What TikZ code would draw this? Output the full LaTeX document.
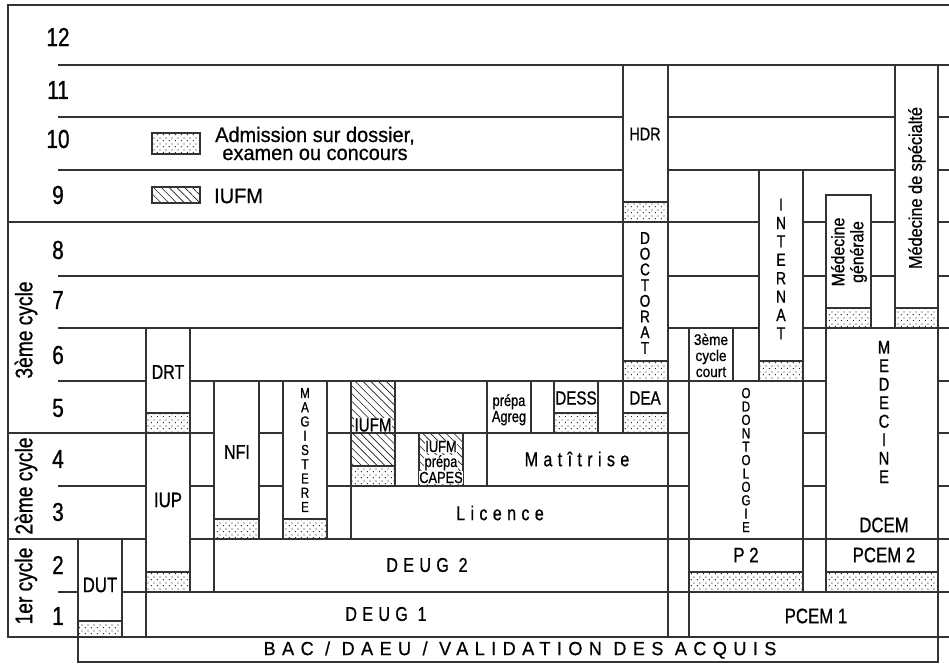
\documentclass[tikz,border=0pt]{standalone}
\usepackage{fontspec}
\setmainfont{Liberation Sans}
\newfontfamily\cnA{Liberation Sans}[FakeStretch=0.8,FakeBold=0.8]
\newfontfamily\cnB{Liberation Sans}[FakeStretch=0.88,FakeBold=0.8]
\newfontfamily\cnC{Liberation Sans}[FakeStretch=0.95,FakeBold=0.6]
\usetikzlibrary{patterns,patterns.meta}
\pgfdeclarepatternformonly{sdots}{\pgfqpoint{0pt}{0pt}}{\pgfqpoint{6pt}{6pt}}{\pgfqpoint{6pt}{6pt}}{%
  \pgfpathcircle{\pgfqpoint{1.5pt}{1.5pt}}{0.72pt}%
  \pgfpathcircle{\pgfqpoint{4.5pt}{4.5pt}}{0.72pt}%
  \pgfusepath{fill}}
\tikzset{
  ln/.style={line width=1.1pt, draw=black!80},
  bx/.style={ln, fill=white},
  dotb/.style={ln, pattern=sdots, pattern color=black!90},
  hatch/.style={ln, pattern={Lines[angle=-45,distance=5.5pt,line width=0.6pt]}, pattern color=black!90},
  num/.style={inner sep=0pt, font=\cnA\fontsize{26}{26}\selectfont},
  cyc/.style={inner sep=0pt, rotate=90, font=\cnA\fontsize{24}{24}\selectfont},
  lab/.style={inner sep=0pt, font=\cnA\fontsize{#1}{#1}\selectfont},
  lab/.default=20,
  stack/.style 2 args={inner sep=0pt, align=center, font=\cnA\fontsize{#1}{#2}\selectfont},
  spaced/.style={inner sep=0pt, font={\cnA\fontsize{20}{20}\selectfont\addfontfeature{LetterSpace=27}}},
  small/.style={inner sep=0pt, anchor=base, font=\cnA\fontsize{16}{16}\selectfont},
}
\begin{document}
\begin{tikzpicture}[x=1pt,y=-1pt]
\useasboundingbox (0,0) rectangle (949,664);
\fill[white] (0,0) rectangle (949,664);
% frame and row lines
\draw[ln] (949,5) -- (8,5) -- (8,637) -- (949,637);
\foreach \yy in {65,117,170,276,328,381,486,592} \draw[ln] (58,\yy) -- (949,\yy);
\foreach \yy in {222,433,539} \draw[ln] (8,\yy) -- (949,\yy);
% row numbers
\node[num] (r12) at (58,37) {12};
\node[num] (r11) at (58,90) {11};
\node[num] (r10) at (58,139) {10};
\node[num] (r9) at (58,195) {9};
\node[num] (r8) at (58,250) {8};
\node[num] (r7) at (58,300) {7};
\node[num] (r6) at (58,355) {6};
\node[num] (r5) at (58,408) {5};
\node[num] (r4) at (58,459) {4};
\node[num] (r3) at (58,512) {3};
\node[num] (r2) at (58,565) {2};
\node[num] (r1) at (58,616) {1};
% cycles
\node[cyc] (c3) at (26,330) {3ème cycle};
\node[cyc] (c2) at (26,486) {2ème cycle};
\node[cyc] (c1) at (26,586) {1er cycle};
% legend
\draw[dotb] (152,133) rectangle (200,154);
\node[inner sep=0pt, anchor=base, font=\cnC\fontsize{21}{21}\selectfont] (adm1) at (315,142) {Admission sur dossier,};
\node[inner sep=0pt, anchor=base, font=\cnC\fontsize{21}{21}\selectfont] (adm2) at (315,160) {examen ou concours};
\draw[hatch] (152,187) rectangle (200,203);
\node[inner sep=0pt, anchor=west, font=\cnC\fontsize{21}{21}\selectfont] (liufm) at (214,196) {IUFM};
% DUT
\draw[bx] (78,539) rectangle (122,637);
\draw[dotb] (78,621) rectangle (122,637);
\node[lab=21] (dut) at (100,585) {DUT};
% DRT / IUP
\draw[bx] (146,328) rectangle (190,433);
\draw[dotb] (146,413) rectangle (190,433);
\node[lab=20] (drt) at (168,372) {DRT};
\draw[bx] (146,433) rectangle (190,592);
\draw[dotb] (146,572) rectangle (190,592);
\node[lab=21] (iup) at (168,500) {IUP};
% DEUG 1
\draw[bx] (146,592) rectangle (668,637);
\node[spaced] (deug1) at (386,614) {DEUG 1};
% NFI
\draw[bx] (214,381) rectangle (259,539);
\draw[dotb] (214,519) rectangle (259,539);
\node[lab=20] (nfi) at (237,452) {NFI};
% MAGISTERE
\draw[bx] (283,381) rectangle (327,539);
\draw[dotb] (283,519) rectangle (327,539);
\node[stack={14.5}{14.25}] (mag) at (305,450) {M\\A\\G\\I\\S\\T\\E\\R\\E};
% DEUG 2
\draw[bx] (214,539) rectangle (668,592);
\node[spaced] (deug2) at (427,565) {DEUG 2};
% IUFM
\draw[hatch] (351,381) rectangle (395,466);
\draw[dotb] (351,466) rectangle (395,486);
\node[lab=19, fill=white, inner sep=0.6pt] (iufm) at (373,425) {IUFM};
% Licence
\draw[bx] (351,486) rectangle (668,539);
\node[spaced] (lic) at (500,513) {Licence};
% IUFM prepa CAPES
\draw[hatch] (419,433) rectangle (463,486);
\node[small, fill=white, inner sep=0.4pt] (ic1) at (441,452) {IUFM};
\node[small, fill=white, inner sep=0.4pt] (ic2) at (441,467) {prépa};
\node[small, fill=white, inner sep=0.4pt] (ic3) at (441,483) {CAPES};
% Maitrise
\draw[bx] (487,433) rectangle (668,486);
\node[spaced] (mai) at (577,459) {Matîtrise};
% prepa Agreg
\draw[bx] (487,381) rectangle (531,433);
\node[small] (pa1) at (509,406) {prépa};
\node[small] (pa2) at (509,422) {Agreg};
% DESS
\draw[bx] (554,381) rectangle (598,433);
\draw[dotb] (554,413) rectangle (598,433);
\node[lab=19] (dess) at (576,398) {DESS};
% DEA
\draw[bx] (623,381) rectangle (668,433);
\draw[dotb] (623,413) rectangle (668,433);
\node[lab=19] (dea) at (645,398) {DEA};
% DOCTORAT
\draw[bx] (623,222) rectangle (668,381);
\draw[dotb] (623,361) rectangle (668,381);
\node[stack={17}{15.7}] (doc) at (645,293) {D\\O\\C\\T\\O\\R\\A\\T};
% HDR
\draw[bx] (623,65) rectangle (668,222);
\draw[dotb] (623,202) rectangle (668,222);
\node[lab=18] (hdr) at (645,134) {HDR};
% 3eme cycle court
\draw[bx] (689,328) rectangle (733,381);
\node[small, font=\cnB\fontsize{15.5}{15.5}\selectfont] (cc1) at (711,345) {3ème};
\node[small, font=\cnB\fontsize{15.5}{15.5}\selectfont] (cc2) at (711,361) {cycle};
\node[small, font=\cnB\fontsize{15.5}{15.5}\selectfont] (cc3) at (711,377) {court};
% Odontologie
\draw[bx] (689,381) rectangle (803,539);
\node[stack={14.5}{13.4}] (odo) at (746,460) {O\\D\\O\\N\\T\\O\\L\\O\\G\\I\\E};
% P 2
\draw[bx] (689,539) rectangle (803,592);
\draw[dotb] (689,572) rectangle (803,592);
\node[lab=21] (p2) at (746,555) {P 2};
% PCEM 1
\draw[bx] (689,592) rectangle (938,637);
\node[lab=21] (pcem1) at (816,616) {PCEM 1};
% INTERNAT
\draw[bx] (759,170) rectangle (803,381);
\draw[dotb] (759,361) rectangle (803,381);
\node[stack={17.5}{18.4}] (int) at (781,269) {I\\N\\T\\E\\R\\N\\A\\T};
% Medecine generale
\draw[bx] (826,195) rectangle (871,328);
\draw[dotb] (826,308) rectangle (871,328);
\node[inner sep=0pt, rotate=90, align=center, font=\cnB\fontsize{18}{19}\selectfont] (mg) at (849,252) {Médecine\\générale};
% Medecine de specialite
\draw[bx] (895,65) rectangle (938,328);
\draw[dotb] (895,308) rectangle (938,328);
\node[inner sep=0pt, rotate=90, font=\cnB\fontsize{18.5}{18.5}\selectfont] (ms) at (917,188) {Médecine de spécialté};
% MEDECINE
\draw[bx] (826,328) rectangle (938,539);
\node[stack={18.5}{18.5}] (med) at (884,412) {M\\E\\D\\E\\C\\I\\N\\E};
\node[lab=21] (dcem) at (884,525) {DCEM};
% PCEM 2
\draw[bx] (826,539) rectangle (938,592);
\draw[dotb] (826,572) rectangle (938,592);
\node[lab=21] (pcem2) at (884,555) {PCEM 2};
% BAC
\draw[bx] (78,637) rectangle (938,662);
\node[inner sep=0pt, font={\cnC\fontsize{19}{19}\selectfont\addfontfeature{LetterSpace=34}}] (bac) at (520,650) {BAC / DAEU / VALIDATION DES ACQUIS};
\end{tikzpicture}
\end{document}
